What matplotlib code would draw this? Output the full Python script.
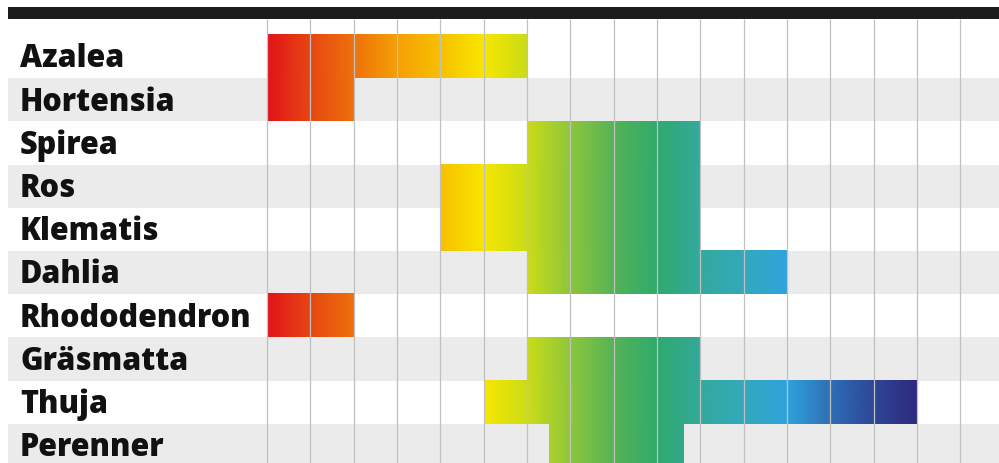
import numpy as np
import matplotlib
matplotlib.use("Agg")
import matplotlib.pyplot as plt
from matplotlib.colors import LinearSegmentedColormap, Normalize
from matplotlib.patches import Rectangle

# Plants and their active periods (in half-month columns)
plants = ["Azalea", "Hortensia", "Spirea", "Ros", "Klematis", "Dahlia",
          "Rhododendron", "Gräsmatta", "Thuja", "Perenner"]
start = [0, 0, 6, 4, 4, 6, 0, 6, 5, 6.5]
end = [6, 2, 10, 10, 10, 12, 2, 10, 15, 9.6]

# Season colour scale, one stop per column boundary
season_colors = ["#e2141a", "#e74812", "#ef720b", "#f5a005", "#f8c000",
                 "#f8e600", "#cadc18", "#8ec63c", "#55b356", "#30aa6e",
                 "#33a99c", "#33a9bc", "#2fa3dc", "#2e6fb6", "#2e4796",
                 "#2f2a80"]
n_cols = 17

W, H, DPI = 999, 464, 100
fig = plt.figure(figsize=(W / DPI, H / DPI), dpi=DPI)
ax = fig.add_axes([0, 0, 1, 1])

col_px = 43.33
row_px = 43.2
x0_px = 267
row0_px = 57.6
ax.set_xlim(-x0_px / col_px, (W - x0_px) / col_px)
ax.set_ylim((H - row0_px) / row_px, -row0_px / row_px)
ax.axis("off")

left_edge = (8 - x0_px) / col_px
right_edge = (W - x0_px) / col_px

# Alternating row bands
for i in range(len(plants)):
    if i % 2 == 1:
        ax.add_patch(Rectangle((left_edge, i - 0.5), right_edge - left_edge, 1,
                               facecolor="#ebebeb", edgecolor="none", zorder=0))

# Gradient bars
cmap = LinearSegmentedColormap.from_list(
    "season", list(zip(np.linspace(0, 1, len(season_colors)), season_colors)))
norm = Normalize(0, len(season_colors) - 1)
for i, (s, e) in enumerate(zip(start, end)):
    xs = np.linspace(s, e, 400)
    rgba = cmap(norm(xs))[np.newaxis, :, :]
    ax.imshow(rgba, extent=(s, e, i + 0.5, i - 0.5), aspect="auto",
              interpolation="bilinear", zorder=2)

# Header rule
top_y = (8 - row0_px) / row_px
bot_y = (20 - row0_px) / row_px
ax.add_patch(Rectangle((left_edge, top_y), right_edge - left_edge, bot_y - top_y,
                       facecolor="#1c1c1a", edgecolor="none", zorder=4))

# Column grid lines
for c in range(n_cols):
    ax.plot([c, c], [bot_y, len(plants) + 0.5], color="#c0c0c0", lw=0.9,
            zorder=3, solid_capstyle="butt")

# Row labels
label_x = (20 - x0_px) / col_px
for i, name in enumerate(plants):
    ax.text(label_x, i + 0.04, name, ha="left", va="center",
            fontsize=22, fontweight="heavy", family=["Open Sans", "DejaVu Sans"],
            color="#111111", zorder=5)

fig.savefig("out.png", dpi=DPI)
